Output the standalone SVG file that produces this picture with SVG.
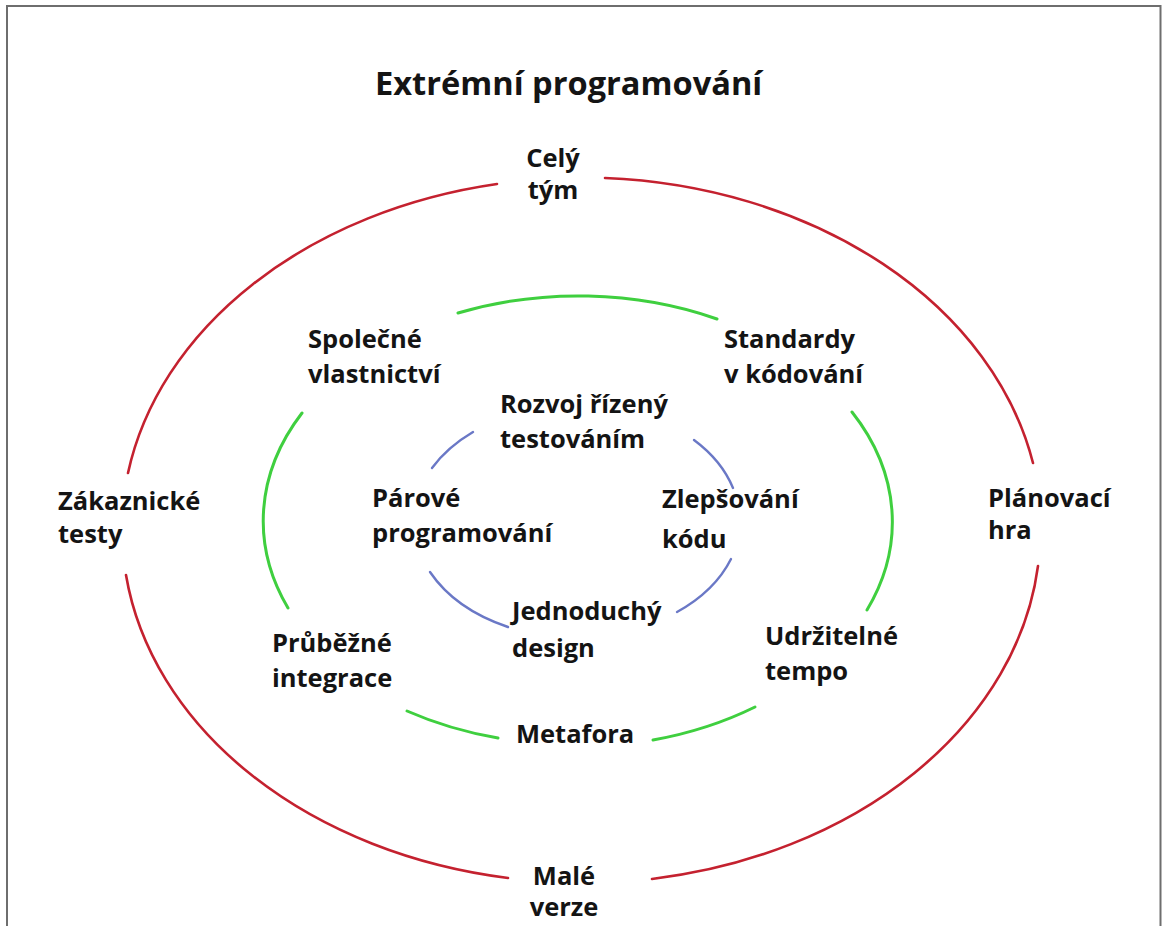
<svg xmlns="http://www.w3.org/2000/svg" width="1162" height="926" viewBox="0 0 1162 926">
  <style>
    text { font-family: "Open Sans", Lato, "Liberation Sans", sans-serif; font-weight: 700; fill: #141414; }
    .lbl { font-size: 25.5px; }
    .title { font-size: 32.6px; }
    .mid { text-anchor: middle; }
    .ring { fill: none; stroke-linecap: round; }
    .outer { stroke: #c4212f; stroke-width: 2.6; }
    .middle { stroke: #3fcf3f; stroke-width: 3; }
    .inner { stroke: #6a78c6; stroke-width: 2.4; }
  </style>

  <rect width="1162" height="926" fill="#ffffff"/>
  <!-- frame: left, top and right edges -->
  <path d="M7,926 V6 H1160.5 V926" fill="none" stroke="#6e6e6e" stroke-width="2"/>

  <text class="title" x="375" y="95">Extrémní programování</text>

  <g id="connectors">
    <!-- outer ring -->
    <path class="ring outer" d="M128,473 A460,353 0 0 1 497,184"/>
    <path class="ring outer" d="M605,178 A460,353 0 0 1 1033,463"/>
    <path class="ring outer" d="M1038,566 A460,353 0 0 1 652,879"/>
    <path class="ring outer" d="M508,878 A460,353 0 0 1 126,575"/>
    <!-- middle ring -->
    <path class="ring middle" d="M458,313 A314,224 0 0 1 717,319"/>
    <path class="ring middle" d="M852,412 A314,224 0 0 1 867,610"/>
    <path class="ring middle" d="M755,707 A314,224 0 0 1 653,740"/>
    <path class="ring middle" d="M498,738 A314,224 0 0 1 407,711"/>
    <path class="ring middle" d="M288,608 A314,224 0 0 1 302,413"/>
    <!-- inner ring -->
    <path class="ring inner" d="M432,468 A165,117 0 0 1 473,432"/>
    <path class="ring inner" d="M694,440 A165,117 0 0 1 733,488"/>
    <path class="ring inner" d="M731,559 A165,117 0 0 1 677,612"/>
    <path class="ring inner" d="M508,627 A165,117 0 0 1 430,572"/>
  </g>

  <g id="cely-tym"><text class="lbl mid" x="553" y="167">Celý</text><text class="lbl mid" x="553" y="199">tým</text></g>
  <g id="planovaci-hra"><text class="lbl" x="988" y="507">Plánovací</text><text class="lbl" x="988" y="539">hra</text></g>
  <g id="male-verze"><text class="lbl mid" x="564" y="885">Malé</text><text class="lbl mid" x="564" y="916">verze</text></g>
  <g id="zakaznicke-testy"><text class="lbl" x="58" y="510">Zákaznické</text><text class="lbl" x="58" y="543">testy</text></g>

  <g id="spolecne-vlastnictvi"><text class="lbl" x="308" y="348">Společné</text><text class="lbl" x="308" y="383">vlastnictví</text></g>
  <g id="standardy"><text class="lbl" x="724" y="348">Standardy</text><text class="lbl" x="724" y="383">v kódování</text></g>
  <g id="prubezne-integrace"><text class="lbl" x="272" y="652">Průběžné</text><text class="lbl" x="272" y="687">integrace</text></g>
  <g id="udrzitelne-tempo"><text class="lbl" x="765" y="645">Udržitelné</text><text class="lbl" x="765" y="680">tempo</text></g>
  <g id="metafora"><text class="lbl" x="516" y="743">Metafora</text></g>

  <g id="rozvoj"><text class="lbl" x="500" y="413">Rozvoj řízený</text><text class="lbl" x="500" y="448">testováním</text></g>
  <g id="parove-programovani"><text class="lbl" x="372" y="507">Párové</text><text class="lbl" x="372" y="542">programování</text></g>
  <g id="zlepsovani-kodu"><text class="lbl" x="662" y="508">Zlepšování</text><text class="lbl" x="662" y="548">kódu</text></g>
  <g id="jednoduchy-design"><text class="lbl" x="512" y="620">Jednoduchý</text><text class="lbl" x="512" y="657">design</text></g>
</svg>
